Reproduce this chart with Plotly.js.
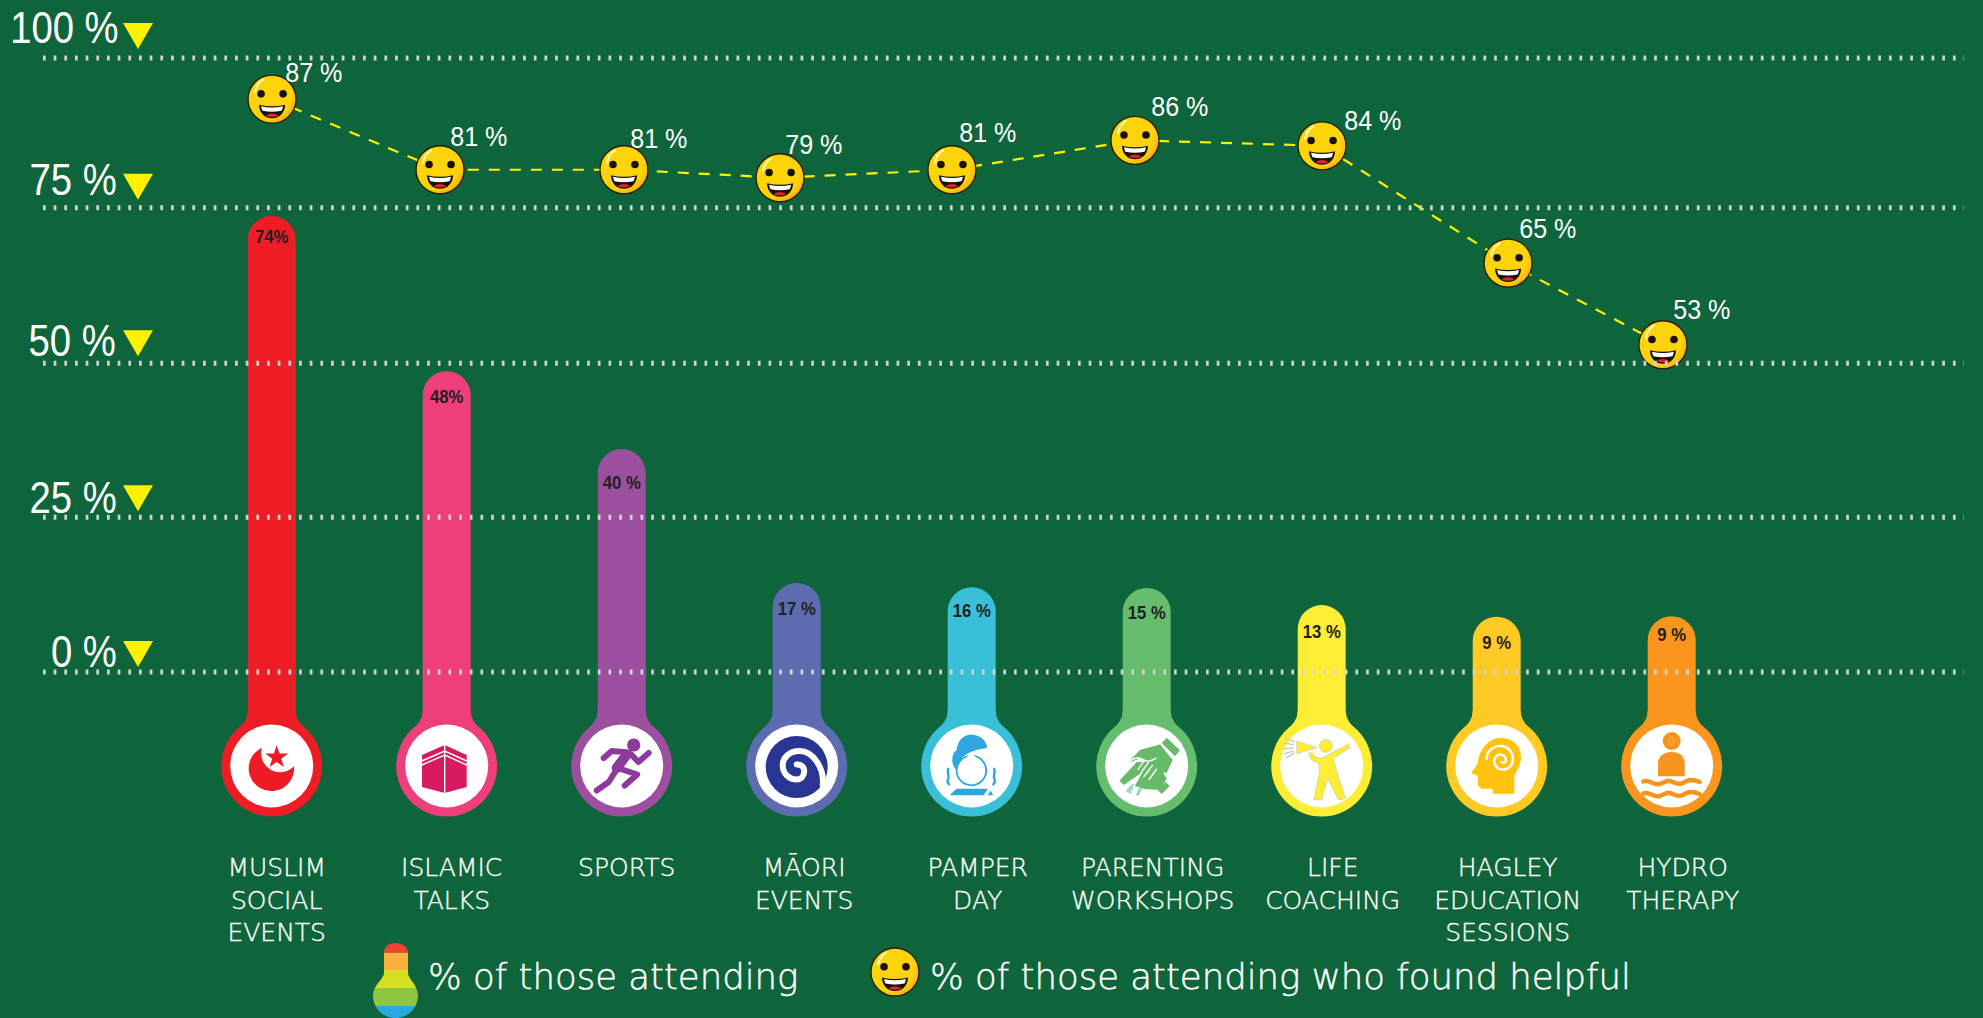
<!DOCTYPE html>
<html>
<head>
<meta charset="utf-8">
<script src="https://cdn.plot.ly/plotly-3.0.1.min.js"></script>
<style>html,body{margin:0;padding:0;background:#0f653b;overflow:hidden}#chart{width:1983px;height:1018px}</style>
</head>
<body>
<div id="chart"></div>
<script>
// ---------- data ----------
const categories = ['MUSLIM<br>SOCIAL<br>EVENTS','ISLAMIC<br>TALKS','SPORTS','MĀORI<br>EVENTS','PAMPER<br>DAY','PARENTING<br>WORKSHOPS','LIFE<br>COACHING','HAGLEY<br>EDUCATION<br>SESSIONS','HYDRO<br>THERAPY'];
const attendValues = [74.3,49,36.3,14.5,13.8,13.7,10.9,9,9.1];          // bar tops as drawn in the picture
const attendLabels = ['74%','48%','40 %','17 %','16 %','15 %','13 %','9 %','9 %'];
const attendLabelY = [70.6,44.6,30.5,10.0,9.7,9.4,6.3,4.5,5.8];
const helpfulX = [0.002,0.962,2.013,2.905,3.887,4.933,6.002,7.065,7.95];
const helpfulValues = [93.3,81.8,81.8,80.5,81.8,86.6,85.7,66.6,53.3];   // marker heights as drawn in the picture
const helpfulLabels = ['87 %','81 %','81 %','79 %','81 %','86 %','84 %','65 %','53 %'];
const gridValues = [100,75.6,50.3,25.2,0];
const gridLabels = ['100 %','75 %','50 %','25 %','0 %'];
const barColors = ['#ee1c25','#ef3e7c','#9c4f9f','#5d6bb0','#3abfd9','#66bd6d','#fded35','#ffc926','#fa961e'];
const legendAttend = '% of those attending';
const legendHelpful = '% of those attending who found helpful';

// ---------- layout constants ----------
const W = 1983, H = 1018, PLOT_B = 845;
const X0 = 271.7, PXX = 175, Y0 = 672, PXY = 6.14;
const xv = px => (px - X0) / PXX;
const yv = py => (Y0 - py) / PXY;
const BULB_Y = yv(766);
const idx = categories.map((_, i) => i);
const BG = '#0f653b';
const NARROW = '"Liberation Sans",sans-serif';
const LIGHT = '"DejaVu Sans",sans-serif';
const labelNudgePx = [0, 0, 0, 2.5, 1, 1, 6, 6, 6];

// ---------- icons ----------
function star(cx, cy, R, r) {
  let p = [];
  for (let i = 0; i < 10; i++) {
    const a = -Math.PI / 2 + i * Math.PI / 5, q = i % 2 ? r : R;
    p.push((cx + q * Math.cos(a)).toFixed(1) + ',' + (cy + q * Math.sin(a)).toFixed(1));
  }
  return p.join(' ');
}
const iconBodies = [
  `<path fill="#ed1c24" d="M32.3,23.7A22.7,22.7 0 1 0 64.3,42.3A19,19 0 0 1 32.3,23.7Z"/><polygon fill="#ed1c24" points="${star(47,33.3,12,4.8)}"/>`,
  `<path fill="#d81b60" d="M40,21L17.3,31V63L40,69L62,63V31Z"/><path stroke="#fff" stroke-width="1.4" fill="none" d="M40,20V70M17,37L40,27L62,37M17,41L40,31L62,41"/>`,
  `<g fill="none" stroke="#8e3a9d" stroke-linecap="round" stroke-linejoin="round"><path stroke-width="6" d="M24,34L32,27L49,28.5M52,31L58.7,38L69,29M38,44L57.5,50.5L45,61.5M36,47L29,58L17,66.5"/><path stroke-width="10" d="M46,32L37,44"/></g><circle cx="54" cy="21" r="6.6" fill="#8e3a9d"/>`,
  `<circle cx="42" cy="43" r="31" fill="#283593"/><path fill="none" stroke="#fff" stroke-width="6" stroke-linecap="round" d="M68,61C70,44 58,27 45,27C34,27 28,34 28,41.5C28,50 35,55.5 42,55.5C47,55.5 49.5,51 49.5,47C49.5,43 46,40 42,40.5"/>`,
  `<path fill="#2ea6df" d="M22.7,38C22,32 24,28 27,26C28,17 33,10.700 41,10.700C50,10.500 57,16 57.500,24C49,25 40,27 33,33C30,38 28.500,42 28,47C25,45 23,41 22.700,38Z"/><circle cx="41.700" cy="46.500" r="14.800" fill="#fff" stroke="#2ea6df" stroke-width="1.800"/><path fill="#fff" d="M41.500,27.500L30,42L53,42Z"/><path fill="none" stroke="#2ea6df" stroke-width="2.400" d="M19,44C16,48 21,51 18,56C17,58 19,60 20,61M64,44C67,48 62,51 65,56C66,58 64,60 63,61"/><path fill="#2ea6df" d="M20,71.300L26.700,64.700H58.300L54,71.300ZM58,71.300L61,66.500L63.500,71.300Z"/>`,
  `<path fill="#66bb6a" d="M62,13.7L75.3,26.3L70.3,32.3L57,19Z"/><path fill="#66bb6a" d="M55.5,20.5L68,36L62,49L52,47L36,34L22,39.7L35.5,25.7Z"/><path fill="#66bb6a" d="M32,38L14.7,56.7L19,61L38,48L30,62L40,65L55,66L62,55L58,47L46,38Z"/><path fill="none" stroke="#fff" stroke-width="1.3" d="M22,40C32,30 37,35 42,37C46,38 50,35 52,34M40,36L33,46M44,38L36,49M48,41L39,53M52,45L44,56"/><path fill="#66bb6a" d="M61,58L65,62L57,70L53,66Z"/><path fill="#9dd5cf" d="M25,62L30,59L26,70L21,67ZM34,64L38,64L34,72L31,71Z"/>`,
  `<g fill="#fded35" stroke="#cfcfb8" stroke-width="0.8"><path d="M17,17L37.3,23.7L17,29.7Z"/><circle cx="46.3" cy="22" r="6.5"/><path d="M29,29L33,29C34,33 38,34 42,34L69,20L70.5,23.5L54,34L56,44L66,74.5L59,76L48,54.7L42,76L34,75.5L40,48L39,39C33,38 29,34 29,29Z"/></g><path stroke="#cfcfb8" stroke-width="1.5" fill="none" d="M15,18L5,14M14,21L4,19M14,24L3,25M14,27L4,30M15,29L6,34"/>`,
  `<path fill="#ffc20e" d="M23,59.7L23,52L16.3,49L23,39.7C24,26 34,13.7 46.3,13.7C58,13.7 66.3,22 66.3,33C66.3,40 63,46 59.7,51.3V69.7H38V64.7H28C25,64 23,62 23,59.7Z"/><path fill="none" stroke="#fff" stroke-width="2.4" stroke-linecap="round" d="M32,35C32,26 40,21 47,22C55,23 59,30 58,37C57,44 50,47 45,45C40,43 38,37 41,33C44,29 50,30 51,35C52,38 49,40 47,38"/>`,
  `<circle cx="42" cy="17" r="9" fill="#f7941d"/><path fill="none" stroke="#fbb768" stroke-width="0.8" d="M42,12C39,16 39,21 42,21C45,21 45,16 42,12Z"/><path fill="#f7941d" d="M28.3,52.3V40C28.3,32 34,28 42,28C50,28 55,32 55,40V52.3Z"/><path fill="none" stroke="#f7941d" stroke-width="4.5" stroke-linecap="round" d="M13.5,57.5C20,55 24,62 30,60C36,58 38,55 43,58C49,61 52,60 57,57C61,55 65,56 70,58M13.5,69.5C20,67 24,74 30,72C36,70 38,67 43,70C49,73 52,72 57,69C61,67 65,68 70,70"/>`
];
const iconUri = (body, vw, vh) => 'data:image/svg+xml;charset=utf-8,' + encodeURIComponent(
  `<svg xmlns="http://www.w3.org/2000/svg" width="${vw}" height="${vh}" viewBox="0 0 ${vw} ${vh}">${body}</svg>`);
const faceSvg = `<defs><radialGradient id="g" cx="0.38" cy="0.38" r="0.72"><stop offset="0.72" stop-color="#fdd40a"/><stop offset="1" stop-color="#f6a313"/></radialGradient></defs>
<circle cx="25" cy="25" r="24" fill="url(#g)" stroke="#2a1d08" stroke-width="1.3"/>
<path fill="none" stroke="#fff7c9" stroke-width="2" stroke-linecap="round" d="M8,18C9,12 12,8 16,5.500"/>
<circle cx="14" cy="19.700" r="3.800" fill="#1a1209"/><circle cx="36" cy="19.700" r="3.800" fill="#1a1209"/>
<path fill="#1a1209" d="M12,30.500Q25,33.500 38,30.500C38,38 33,44 25,44C17,44 12,38 12,30.500Z"/>
<path fill="#fff" d="M14,32Q25,34.500 36,32Q35.500,35 34.500,36.500Q25,38.500 15.500,36.500Q14.500,35 14,32Z"/>
<path fill="#e3232f" d="M18.500,41.500Q25,37 31.500,41.500Q25,44 18.500,41.500Z"/>`;
const faceUri = iconUri(faceSvg, 50, 50);
const thermoUri = iconUri(`<defs><clipPath id="c"><path d="M11,9.500C11,4 16,0 22.500,0C29,0 35,4 35,9.500V30C35,36 45,42 45,52.500C45,65 35,75 22.500,75C10,75 0,65 0,52.500C0,42 11,36 11,30Z"/></clipPath></defs>
<g clip-path="url(#c)"><rect width="45" height="9.700" fill="#ef4136"/><rect y="9.700" width="45" height="17.300" fill="#fbb040"/><rect y="27" width="45" height="18" fill="#d7df23"/><rect y="45" width="45" height="18" fill="#8dc63f"/><rect y="63" width="45" height="12" fill="#27aae1"/></g>`, 45, 75);

// ---------- traces ----------
const bars = {
  type: 'bar', x: idx, y: attendValues.map(v => v - BULB_Y), base: idx.map(() => BULB_Y),
  width: 48 / PXX, marker: {color: barColors, cornerradius: 24, line: {width: 0}}, hoverinfo: 'skip', showlegend: false
};
const bulbs = {
  type: 'scatter', mode: 'markers', x: idx, y: idx.map(() => BULB_Y),
  marker: {size: 101, color: barColors, line: {width: 0}}, hoverinfo: 'skip', showlegend: false, cliponaxis: false
};
const bulbInner = {
  type: 'scatter', mode: 'markers', x: idx, y: idx.map(() => BULB_Y),
  marker: {size: 83, color: '#ffffff', line: {width: 0}}, hoverinfo: 'skip', showlegend: false, cliponaxis: false
};
const barLabels = {
  type: 'scatter', mode: 'text', x: idx, y: attendLabelY, text: attendLabels, textposition: 'middle center',
  textfont: {family: NARROW, size: 19, color: '#231f20', weight: 700}, hoverinfo: 'skip', showlegend: false
};
const helpfulLine = {
  type: 'scatter', mode: 'lines', x: helpfulX, y: helpfulValues,
  line: {color: '#fff200', width: 2.2, dash: '11px,10px'}, hoverinfo: 'skip', showlegend: false
};

// ---------- layout pieces ----------
const gridShapes = gridValues.map(v => ({
  type: 'line', layer: 'above', xref: 'x', yref: 'y', x0: xv(43), x1: xv(1964), y0: v, y1: v,
  line: {color: '#cfd4d1', width: 5, dash: '2.7px,7.97px'}
}));
const triTips = [9, 8, 7, 6, 5];
const triShapes = gridValues.map((v, i) => ({
  type: 'path', layer: 'above', xref: 'x', yref: 'y', xsizemode: 'pixel', ysizemode: 'pixel',
  xanchor: xv(138), yanchor: v, path: `M-15,${triTips[i] + 26}H15L0,${triTips[i]}Z`,
  fillcolor: '#fff200', line: {width: 0}
}));
const neckShapes = idx.map(i => ({
  type: 'path', layer: 'below', xref: 'x', yref: 'y', xsizemode: 'pixel', ysizemode: 'pixel',
  xanchor: i, yanchor: BULB_Y, path: 'M-24,55Q-24,44 -38,33L38,33Q24,44 24,55Z',
  fillcolor: barColors[i], line: {width: 0}
}));

const gridShift = [31, 28, 23, 20, 21];
const gridLabelPx = [64, 72.5, 72, 73, 84];
const gridAnn = gridValues.map((v, i) => ({
  xref: 'x', yref: 'y', x: xv(gridLabelPx[i]), y: v, yshift: gridShift[i], text: gridLabels[i], showarrow: false,
  xanchor: 'center', yanchor: 'middle', font: {family: NARROW, size: 44, color: '#ffffff'}
}));
const valShift = [[42,26],[39,33],[35,31],[34,33],[36,37],[45,33],[51,25],[40,34],[39,35]];
const valAnn = helpfulX.map((x, i) => ({
  xref: 'x', yref: 'y', x: x, y: helpfulValues[i], xshift: valShift[i][0], yshift: valShift[i][1],
  text: helpfulLabels[i], showarrow: false, xanchor: 'center', yanchor: 'middle',
  font: {family: NARROW, size: 27, color: '#ffffff'}
}));
const legAnn = [[426, legendAttend], [928, legendHelpful]].map(([px, t]) => ({
  xref: 'paper', yref: 'paper', x: px / W, y: (PLOT_B - 976) / PLOT_B, text: t, showarrow: false,
  xanchor: 'left', yanchor: 'middle', font: {family: LIGHT, size: 35.5, color: '#ffffff', weight: 200}
}));

const iconImages = idx.map(i => ({
  source: iconUri(iconBodies[i], 84, 84), xref: 'x', yref: 'y', x: i, y: BULB_Y,
  sizex: 84 / PXX, sizey: 84 / PXY, xanchor: 'center', yanchor: 'middle', sizing: 'stretch', layer: 'above'
}));
const faceImages = helpfulX.map((x, i) => ({
  source: faceUri, xref: 'x', yref: 'y', x: x, y: helpfulValues[i],
  sizex: 50 / PXX, sizey: 50 / PXY, xanchor: 'center', yanchor: 'middle', sizing: 'stretch', layer: 'above'
}));
const legendImages = [
  {source: thermoUri, xref: 'paper', yref: 'paper', x: 373 / W, y: (PLOT_B - 943) / PLOT_B,
   sizex: 45 / W, sizey: 75 / PLOT_B, xanchor: 'left', yanchor: 'top', sizing: 'stretch', layer: 'above'},
  {source: faceUri, xref: 'paper', yref: 'paper', x: 895 / W, y: (PLOT_B - 972) / PLOT_B,
   sizex: 50 / W, sizey: 50 / PLOT_B, xanchor: 'center', yanchor: 'middle', sizing: 'stretch', layer: 'above'}
];

const layout = {
  width: W, height: H, autosize: false,
  margin: {l: 0, r: 0, t: 0, b: H - PLOT_B, pad: 0},
  paper_bgcolor: BG, plot_bgcolor: BG, showlegend: false, barmode: 'overlay',
  xaxis: {
    range: [xv(0), xv(W)], tickmode: 'array', tickvals: idx.map(i => i + labelNudgePx[i] / PXX), ticktext: categories,
    showgrid: false, zeroline: false, showline: false, ticks: '', fixedrange: true, automargin: false,
    tickangle: 0, ticklabelshift: 5, ticklabelstandoff: 5,
    tickfont: {family: LIGHT, size: 25, color: '#ffffff', weight: 200}
  },
  yaxis: {
    range: [yv(PLOT_B), yv(0)], showticklabels: false, showgrid: false, zeroline: false, showline: false,
    ticks: '', fixedrange: true, automargin: false
  },
  shapes: neckShapes.concat(gridShapes, triShapes),
  annotations: gridAnn.concat(valAnn, legAnn),
  images: iconImages.concat(faceImages, legendImages)
};

// The reference's numerals use a condensed face that is not installed: narrow the glyphs of the real text.
function condense(el, k) {
  const len = el.getComputedTextLength();
  el.setAttribute('textLength', (len * k).toFixed(1));
  el.setAttribute('lengthAdjust', 'spacingAndGlyphs');
}
function thicken(el, w) { el.style.stroke = '#ffffff'; el.style.strokeWidth = w + 'px'; }
Plotly.newPlot('chart', [bars, bulbs, bulbInner, barLabels, helpfulLine], layout, {displayModeBar: false, responsive: false}).then(gd => {
  const nG = gridValues.length, nV = helpfulX.length;
  gd.querySelectorAll('.annotation-text').forEach((el, i) => {
    if (i < nG) condense(el, 0.87);
    else if (i < nG + nV) condense(el, 0.93);
    else thicken(el, 0.45);
  });
  gd.querySelectorAll('.textpoint text').forEach(el => condense(el, 0.88));
  gd.querySelectorAll('.xtick text').forEach(el => thicken(el, 0.35));
});
</script>
</body>
</html>
